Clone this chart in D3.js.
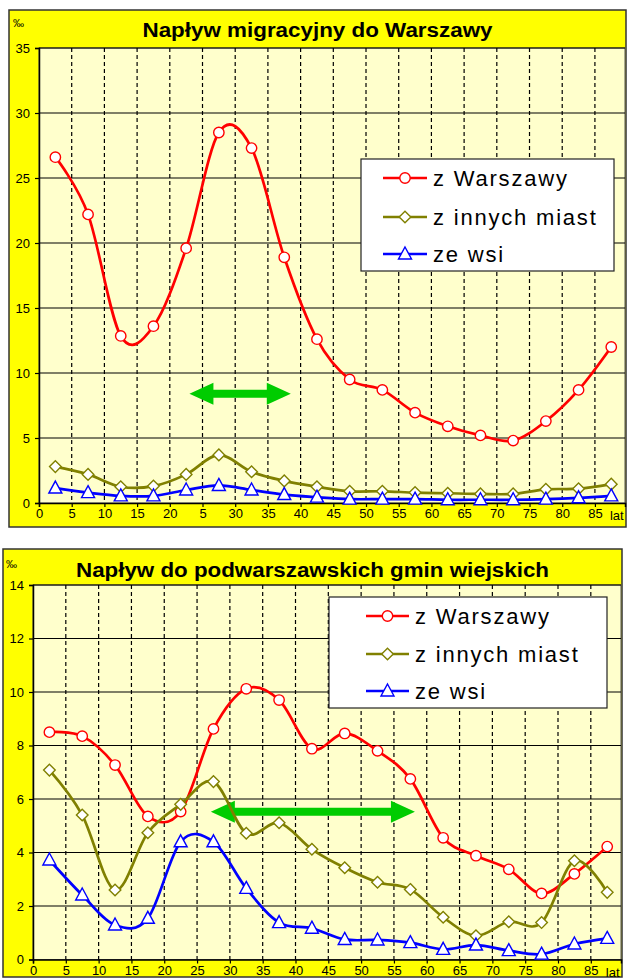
<!DOCTYPE html>
<html>
<head>
<meta charset="utf-8">
<script src="https://cdn.jsdelivr.net/npm/d3@7"></script>
<style>
    body { margin: 0; background: #fff; }
    svg { display: block; font-family: Arial, 'Liberation Sans', sans-serif; }
</style>
</head>
<body>
<div id="container"></div>
<script>
'use strict';

//Data: age group middles (years) and tick labels
const ages = [2.5, 7.5, 12.5, 17.5, 22.5, 27.5, 32.5, 37.5, 42.5, 47.5, 52.5, 57.5, 62.5, 67.5, 72.5, 77.5, 82.5, 87.5];
const xTicks = [0, 5, 10, 15, 20, 25, 30, 35, 40, 45, 50, 55, 60, 65, 70, 75, 80, 85];
const xLabelsTop = ['0', '5', '10', '15', '20', '5', '30', '35', '40', '45', '50', '55', '60', '65', '70', '75', '80', '85'];
const xLabelsBottom = ['0', '5', '10', '15', '20', '25', '30', '35', '40', '45', '50', '55', '60', '65', '70', '75', '80', '85'];
const yTicksTop = [0, 5, 10, 15, 20, 25, 30, 35];
const yTicksBottom = [0, 2, 4, 6, 8, 10, 12, 14];
const seriesNames = ['z Warszawy', 'z innych miast', 'ze wsi'];

//Napływ migracyjny do Warszawy (‰)
const warsawTop = [26.6, 22.2, 12.85, 13.6, 19.6, 28.5, 27.3, 18.9, 12.6, 9.5, 8.7, 6.95, 5.9, 5.2, 4.8, 6.3, 8.7, 12.0];
const citiesTop = [2.8, 2.2, 1.25, 1.3, 2.2, 3.7, 2.4, 1.7, 1.25, 0.9, 0.9, 0.8, 0.75, 0.7, 0.7, 1.05, 1.1, 1.45];
const villagesTop = [1.15, 0.8, 0.55, 0.55, 1.0, 1.35, 1.0, 0.65, 0.45, 0.3, 0.3, 0.3, 0.25, 0.25, 0.25, 0.3, 0.4, 0.55];

//Napływ do podwarszawskich gmin wiejskich (‰)
const warsawBottom = [8.5, 8.35, 7.27, 5.35, 5.53, 8.62, 10.12, 9.7, 7.88, 8.45, 7.8, 6.75, 4.55, 3.88, 3.37, 2.47, 3.2, 4.22];
const citiesBottom = [7.08, 5.4, 2.6, 4.74, 5.8, 6.65, 4.72, 5.11, 4.12, 3.43, 2.89, 2.62, 1.58, 0.89, 1.41, 1.38, 3.69, 2.51];
const villagesBottom = [3.72, 2.41, 1.29, 1.54, 4.4, 4.4, 2.66, 1.38, 1.17, 0.75, 0.73, 0.63, 0.38, 0.54, 0.33, 0.2, 0.58, 0.79];

//Green arrows: [from age, to age, level]
const arrowTop = [23, 38.5, 8.4];
const arrowBottom = [27.1, 58.2, 5.52];

//Styles
const COLORS = ['#ff0000', '#808000', '#0000ff'];
const MARKERS = ['circle', 'diamond', 'triangle'];
const YELLOW = '#ffff00';
const PLOT_BG = '#ffffcc';
const ARROW_GREEN = '#00cc00';
const X_MAX = 89.6;

const CHARTS = [
    {
        title: 'Napływ migracyjny do Warszawy',
        box: { x: 9, y: 10, w: 617, h: 517 },
        titleY: 37, titleWidth: 350,
        plot: { left: 39, right: 625, top: 48, bottom: 503 },
        yMax: 35, yTicks: yTicksTop, xLabels: xLabelsTop,
        series: [warsawTop, citiesTop, villagesTop],
        arrow: arrowTop,
        legend: { x: 361, y: 159, w: 253, h: 112, line: [22, 66], textX: 72, rows: [19, 58, 95] },
        permille: { x: 13, y: 27 },
    },
    {
        title: 'Napływ do podwarszawskich gmin wiejskich',
        box: { x: 3, y: 549, w: 619, h: 428 },
        titleY: 577, titleWidth: 473,
        plot: { left: 33, right: 621, top: 585, bottom: 959.5 },
        yMax: 14, yTicks: yTicksBottom, xLabels: xLabelsBottom,
        series: [warsawBottom, citiesBottom, villagesBottom],
        arrow: arrowBottom,
        legend: { x: 329, y: 597, w: 278, h: 111, line: [37, 80], textX: 86, rows: [19, 57, 94] },
        permille: { x: 6, y: 568 },
    },
];

//Canvas
const svg = d3.select('#container')
    .append('svg')
    .attr('width', 628)
    .attr('height', 978)
    .attr('viewBox', '0 0 628 978');

CHARTS.forEach(cfg => drawChart(svg.append('g'), cfg));

//Draw one chart panel
function drawChart(g, cfg) {
    const { box, plot } = cfg;
    const x = d3.scaleLinear().domain([0, X_MAX]).range([plot.left, plot.right]);
    const y = d3.scaleLinear().domain([0, cfg.yMax]).range([plot.bottom, plot.top]);

    //Frame and backgrounds
    g.append('rect')
        .attr('x', box.x).attr('y', box.y)
        .attr('width', box.w).attr('height', box.h)
        .attr('fill', YELLOW)
        .attr('stroke', '#333').attr('stroke-width', 1.5);
    g.append('rect')
        .attr('x', plot.left).attr('y', plot.top)
        .attr('width', plot.right - plot.left).attr('height', plot.bottom - plot.top)
        .attr('fill', PLOT_BG)
        .attr('stroke', '#555').attr('stroke-width', 1);

    //Title
    g.append('text')
        .attr('x', box.x + box.w / 2)
        .attr('y', cfg.titleY)
        .attr('text-anchor', 'middle')
        .attr('font-size', 20)
        .attr('font-weight', 'bold')
        .attr('textLength', cfg.titleWidth)
        .attr('lengthAdjust', 'spacingAndGlyphs')
        .text(cfg.title);
    g.append('text')
        .attr('x', cfg.permille.x)
        .attr('y', cfg.permille.y)
        .attr('font-size', 11)
        .text('‰');

    //Grid
    g.append('g')
        .selectAll('line')
        .data(cfg.yTicks.slice(1))
        .join('line')
        .attr('x1', plot.left).attr('x2', plot.right)
        .attr('y1', d => y(d)).attr('y2', d => y(d))
        .attr('stroke', '#000').attr('stroke-width', 1.2);
    g.append('g')
        .selectAll('line')
        .data(xTicks.slice(1))
        .join('line')
        .attr('x1', d => x(d)).attr('x2', d => x(d))
        .attr('y1', plot.top).attr('y2', plot.bottom)
        .attr('stroke', '#000').attr('stroke-width', 1.2)
        .attr('stroke-dasharray', '4,3');

    //Axes
    const yAxis = d3.axisLeft(y).tickValues(cfg.yTicks).tickSize(4).tickPadding(5);
    const yAxisG = g.append('g')
        .attr('transform', `translate(${plot.left},0)`)
        .call(yAxis);
    const xAxis = d3.axisBottom(x)
        .tickValues(xTicks)
        .tickSize(4)
        .tickPadding(2)
        .tickFormat((d, i) => cfg.xLabels[i]);
    const xAxisG = g.append('g')
        .attr('transform', `translate(0,${plot.bottom})`)
        .call(xAxis);
    [yAxisG, xAxisG].forEach(a => {
        a.select('.domain').attr('stroke', '#000').attr('stroke-width', 1.5);
        a.selectAll('.tick line').attr('stroke', '#000').attr('stroke-width', 1.2);
        a.selectAll('.tick text')
            .attr('font-family', 'Arial, Liberation Sans, sans-serif')
            .attr('font-size', 13)
            .attr('fill', '#000');
    });
    xAxisG.append('text')
        .attr('x', x(85) + 15)
        .attr('y', 17)
        .attr('font-size', 13)
        .attr('fill', '#000')
        .attr('text-anchor', 'start')
        .text('lat');

    //Arrow annotation
    drawArrow(g, x(cfg.arrow[0]), x(cfg.arrow[1]), y(cfg.arrow[2]));

    //Series
    const line = d3.line()
        .x((d, i) => x(ages[i]))
        .y(d => y(d))
        .curve(d3.curveCardinal.tension(0));
    cfg.series.forEach((values, s) => {
        g.append('path')
            .datum(values)
            .attr('d', line)
            .attr('fill', 'none')
            .attr('stroke', COLORS[s])
            .attr('stroke-width', 2.7)
            .attr('stroke-linejoin', 'round');
        g.append('g')
            .selectAll('path')
            .data(values)
            .join('path')
            .attr('d', markerPath(MARKERS[s]))
            .attr('transform', (d, i) => `translate(${x(ages[i])},${y(d)})`)
            .attr('fill', '#fff')
            .attr('stroke', COLORS[s])
            .attr('stroke-width', 1.4);
    });

    //Legend
    buildLegend(g, cfg.legend);
}

//Legend box with line samples
function buildLegend(g, lg) {
    const place = g.append('g').attr('transform', `translate(${lg.x},${lg.y})`);
    place.append('rect')
        .attr('width', lg.w).attr('height', lg.h)
        .attr('fill', '#fff')
        .attr('stroke', '#222').attr('stroke-width', 1.2);
    seriesNames.forEach((name, i) => {
        const row = place.append('g').attr('transform', `translate(0,${lg.rows[i]})`);
        row.append('line')
            .attr('x1', lg.line[0]).attr('x2', lg.line[1])
            .attr('stroke', COLORS[i]).attr('stroke-width', 2.7);
        row.append('path')
            .attr('d', markerPath(MARKERS[i]))
            .attr('transform', `translate(${(lg.line[0] + lg.line[1]) / 2},0)`)
            .attr('fill', '#fff')
            .attr('stroke', COLORS[i])
            .attr('stroke-width', 1.4);
        row.append('text')
            .attr('x', lg.textX)
            .attr('y', 8)
            .attr('font-size', 22)
            .attr('letter-spacing', 1.8)
            .text(name);
    });
}

//Marker shapes
function markerPath(type) {
    if (type === 'circle') return d3.symbol(d3.symbolCircle, Math.PI * 5.2 * 5.2)();
    if (type === 'diamond') return 'M0,-5.8L5.8,0L0,5.8L-5.8,0Z';
    return 'M0,-7L6.5,5L-6.5,5Z';
}

//Double headed arrow
function drawArrow(g, x1, x2, yc) {
    const head = 24, half = 11, shaft = 4;
    const pts = [
        [x1, yc], [x1 + head, yc - half], [x1 + head, yc - shaft],
        [x2 - head, yc - shaft], [x2 - head, yc - half], [x2, yc],
        [x2 - head, yc + half], [x2 - head, yc + shaft],
        [x1 + head, yc + shaft], [x1 + head, yc + half],
    ];
    g.append('path')
        .attr('d', d3.line()(pts) + 'Z')
        .attr('fill', ARROW_GREEN);
}
</script>
</body>
</html>
